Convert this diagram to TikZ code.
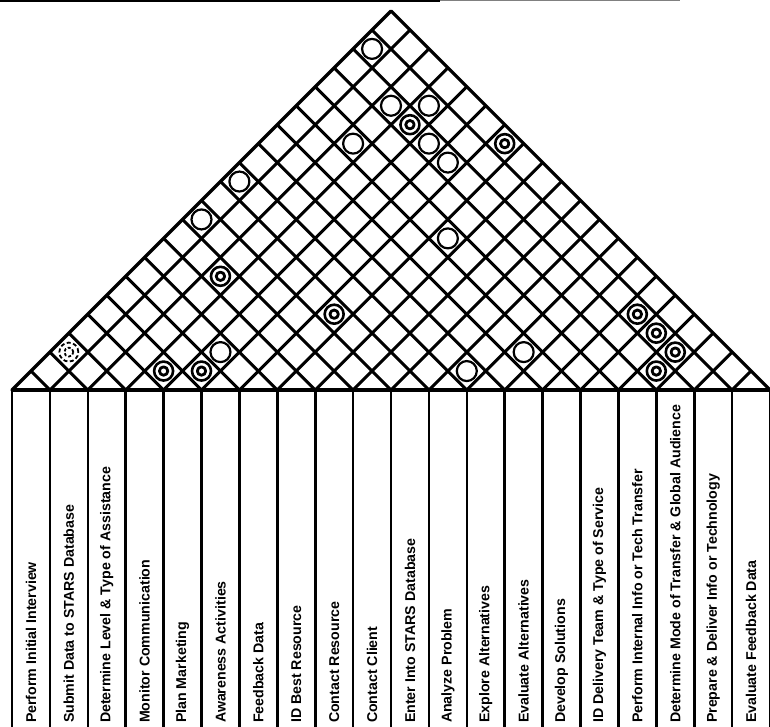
\documentclass[tikz,border=0pt]{standalone}
\usepackage{fontspec}
\setmainfont{Liberation Sans}
\begin{document}
\begin{tikzpicture}[x=37.9pt,y=37.9pt,line join=round]
\tikzset{
  gridline/.style={line width=3pt},
  colline/.style={line width=2.6pt},
  lbl/.style={rotate=90,anchor=west,inner sep=0pt,font=\bfseries\fontsize{14.2}{15}\selectfont},
  weak/.style={circle,draw,fill=white,line width=2.2pt,minimum size=20pt,inner sep=0pt},
  strong/.style={circle,draw,fill=white,line width=2.6pt,minimum size=19pt,inner sep=0pt,
    path picture={\draw[line width=2.8pt] (path picture bounding box.center) circle (4.2pt);}},
  faint/.style={circle,draw,fill=white,line width=1.8pt,minimum size=19pt,inner sep=0pt,
    dash pattern=on 4pt off 2.5pt,
    path picture={\draw[line width=1.8pt,dash pattern=on 3pt off 2pt] (path picture bounding box.center) circle (4.5pt);}}
}
\useasboundingbox (-12pt,-337pt) rectangle (758pt,390pt);
% scan edge at the top
\draw[line width=2.2pt] (-12pt,388.9pt) -- (428pt,388.9pt);
\draw[line width=1.2pt,gray] (428pt,389.4pt) -- (668pt,389.4pt);
% roof grid
\foreach \k in {1,...,19}{
  \draw[gridline] (\k,0) -- ({(\k+20)/2},{(20-\k)/2});
  \draw[gridline] (\k,0) -- ({\k/2},{\k/2});
}
\draw[line width=3.2pt] (0,0) -- (10,10) -- (20,0) -- cycle;
% columns
\foreach \k in {0,...,20}{
  \draw[colline] (\k,0) -- (\k,-9);
}
\draw[line width=3.2pt] (0,0) -- (20,0);
% column labels
\foreach \t [count=\i] in {Perform Initial Interview,
  Submit Data to STARS Database,
  Determine Level \& Type of Assistance,
  Monitor Communication,
  Plan Marketing,
  Awareness Activities,
  Feedback Data,
  ID Best Resource,
  Contact Resource,
  Contact Client,
  Enter Into STARS Database,
  Analyze Problem,
  Explore Alternatives,
  Evaluate Alternatives,
  Develop Solutions,
  ID Delivery Team \& Type of Service,
  Perform Internal Info or Tech Transfer,
  Determine Mode of Transfer \& Global Audience,
  Prepare \& Deliver Info or Technology,
  Evaluate Feedback Data}{
  \node[lbl] (l\i) at ({\i-0.5},-8.79) {\t};
}
% relationship symbols
\foreach \p/\q [count=\i] in {9.5/9, 10/7.5, 11/7.5, 11/6.5, 11.5/6, 9/6.5, 6/5.5, 5/4.5,
  11.5/4, 5.5/1, 13.5/1, 12/0.5}{
  \node[weak] (w\i) at (\p,\q) {};
}
\foreach \p/\q [count=\i] in {10.5/7, 13/6.5, 5.5/3, 8.5/2, 16.5/2, 17/1.5, 17.5/1, 17/0.5,
  4/0.5, 5/0.5}{
  \node[strong] (s\i) at (\p,\q) {};
}
\node[faint] (f1) at (1.5,1) {};
\end{tikzpicture}
\end{document}
